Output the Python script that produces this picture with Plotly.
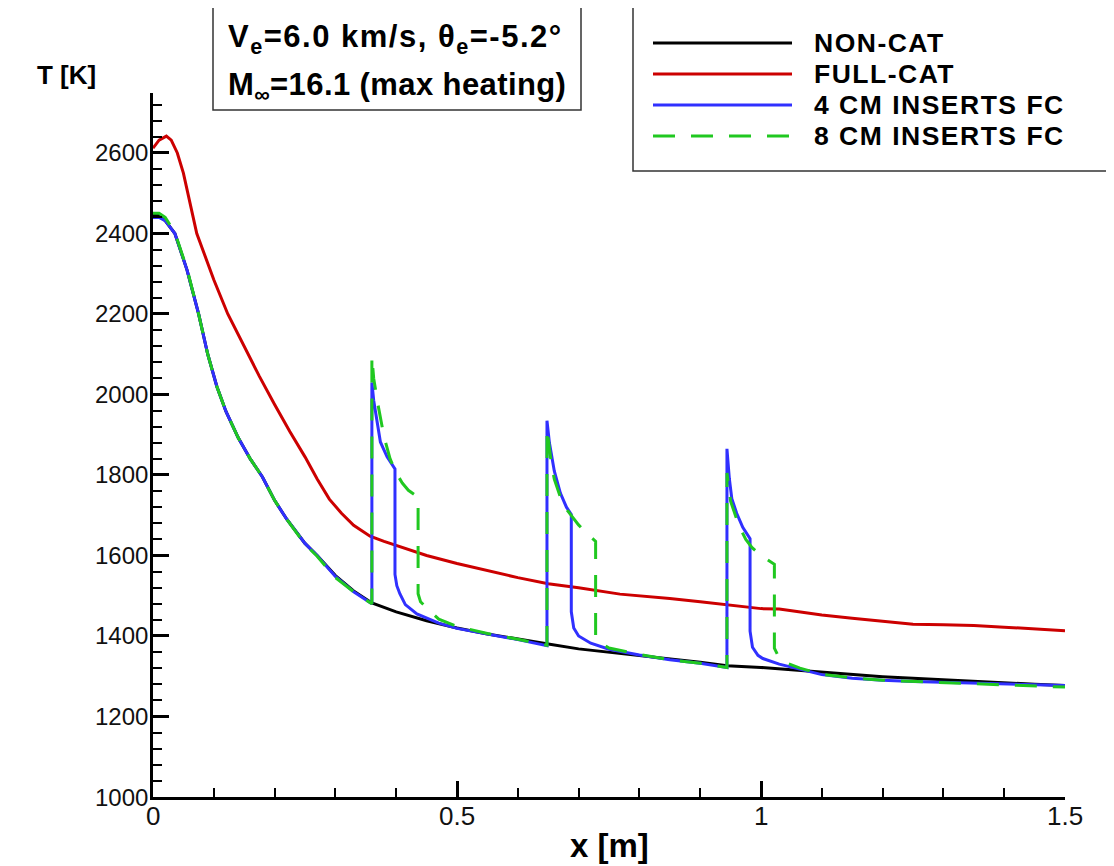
import plotly.graph_objects as go

# ---------------- data ----------------
x_noncat = [0, 0.01, 0.02, 0.036, 0.056, 0.075, 0.09, 0.105, 0.12, 0.14, 0.16, 0.18, 0.20, 0.22, 0.25, 0.27,
            0.30, 0.33, 0.36, 0.40, 0.45, 0.50, 0.55, 0.60, 0.65, 0.70, 0.75, 0.80, 0.85, 0.90, 0.944,
            1.00, 1.05, 1.10, 1.15, 1.20, 1.25, 1.30, 1.35, 1.40, 1.45, 1.50]
T_noncat = [2445, 2445, 2432, 2400, 2309, 2200, 2100, 2020, 1958, 1893, 1840, 1795, 1737, 1690, 1630, 1600,
            1550, 1512, 1482, 1460, 1438, 1420, 1405, 1392, 1380, 1368, 1360, 1352, 1343, 1335, 1326,
            1322, 1316, 1310, 1304, 1299, 1295, 1291, 1287, 1284, 1280, 1277]

x_fullcat = [0, 0.01, 0.022, 0.03, 0.04, 0.05, 0.072, 0.10, 0.123, 0.15, 0.175, 0.20, 0.225, 0.25, 0.27,
             0.29, 0.31, 0.33, 0.357, 0.38, 0.40, 0.45, 0.50, 0.555, 0.60, 0.65, 0.70, 0.768, 0.80, 0.85,
             0.90, 0.95, 1.00, 1.03, 1.064, 1.10, 1.15, 1.20, 1.25, 1.30, 1.35, 1.40, 1.45, 1.50]
T_fullcat = [2612, 2632, 2642, 2632, 2600, 2550, 2400, 2285, 2200, 2118, 2045, 1975, 1908, 1845, 1790,
             1740, 1705, 1675, 1648, 1635, 1625, 1600, 1580, 1561, 1545, 1530, 1520, 1504, 1500, 1493,
             1485, 1476, 1468, 1467, 1459, 1452, 1444, 1436, 1429, 1428, 1426, 1422, 1418, 1413]

x_ins4 = [0, 0.01, 0.02, 0.036, 0.056, 0.075, 0.09, 0.105, 0.12, 0.14, 0.16, 0.18, 0.20, 0.22, 0.25, 0.27,
          0.30, 0.33, 0.36,
          0.36, 0.363, 0.374, 0.385, 0.398,
          0.398, 0.401, 0.406, 0.415, 0.434, 0.47, 0.50, 0.554, 0.60, 0.648,
          0.648, 0.652, 0.66, 0.67, 0.68, 0.688,
          0.688, 0.692, 0.70, 0.72, 0.75, 0.80, 0.85, 0.90, 0.944,
          0.944, 0.948, 0.952, 0.96, 0.97, 0.982,
          0.982, 0.986, 0.995, 1.003, 1.03, 1.064, 1.10, 1.15, 1.20, 1.25, 1.30, 1.35, 1.40, 1.45, 1.50]
T_ins4 = [2440, 2440, 2432, 2400, 2309, 2200, 2100, 2020, 1958, 1893, 1840, 1795, 1737, 1690, 1630, 1600,
          1548, 1510, 1480,
          2030, 1985, 1882, 1845, 1815,
          1553, 1525, 1505, 1478, 1455, 1432, 1419, 1404, 1391, 1376,
          1935, 1880, 1810, 1755, 1720, 1702,
          1460, 1420, 1400, 1382, 1367, 1353, 1341, 1332, 1322,
          1865, 1790, 1741, 1705, 1670, 1642,
          1412, 1372, 1352, 1344, 1330, 1318, 1304, 1295, 1290, 1287, 1285, 1283, 1281, 1279, 1277]

x_ins8 = [0, 0.01, 0.02, 0.036, 0.056, 0.075, 0.09, 0.105, 0.12, 0.14, 0.16, 0.18, 0.20, 0.22, 0.25, 0.27,
          0.30, 0.33, 0.36,
          0.36, 0.363, 0.37, 0.38, 0.39, 0.40, 0.41, 0.42, 0.436,
          0.436, 0.44, 0.45, 0.456, 0.47, 0.50, 0.55, 0.60, 0.648,
          0.648, 0.655, 0.66, 0.67, 0.68, 0.69, 0.70, 0.71, 0.72, 0.728,
          0.728, 0.735, 0.75, 0.80, 0.85, 0.90, 0.944,
          0.944, 0.95, 0.96, 0.97, 0.975, 0.985, 1.00, 1.01, 1.022,
          1.022, 1.03, 1.045, 1.064, 1.10, 1.15, 1.20, 1.30, 1.40, 1.50]
T_ins8 = [2450, 2450, 2440, 2402, 2312, 2200, 2100, 2020, 1958, 1893, 1840, 1795, 1737, 1690, 1628, 1598,
          1545, 1510, 1480,
          2095, 2040, 1975, 1895, 1840, 1805, 1780, 1762, 1745,
          1505, 1485, 1470, 1462, 1442, 1424, 1406, 1392, 1377,
          1915, 1830, 1790, 1745, 1715, 1695, 1676, 1660, 1646, 1635,
          1395, 1384, 1370, 1354, 1341, 1332, 1322,
          1805, 1735, 1690, 1655, 1640, 1620, 1600, 1590, 1578,
          1370, 1345, 1331, 1320, 1305, 1296, 1290, 1284, 1278, 1273]

series_names = ["NON-CAT", "FULL-CAT", "4 CM INSERTS FC", "8 CM INSERTS FC"]
series_colors = ["#000000", "#cc0000", "#3030ff", "#20c820"]
series_dash = ["solid", "solid", "solid", "22px,16px"]

x_ticks = [0, 0.5, 1, 1.5]
x_ticklabels = ["0", "0.5", "1", "1.5"]
y_ticks = [1000, 1200, 1400, 1600, 1800, 2000, 2200, 2400, 2600]
y_ticklabels = ["1000", "1200", "1400", "1600", "1800", "2000", "2200", "2400", "2600"]

# ---------------- layout helpers ----------------
# the page body has an 8px margin, so the figure is made 8px smaller and
# every position below is given in the reference screenshot's pixels
OFF = 8
W, H = 1114 - OFF, 866 - OFF
L, R, T, B = 153, 1065, 93, 797          # plot-area edges in screenshot pixels


def fx(px):
    return (px - L) / (R - L)


def fy(py):
    return (B - py) / (B - T)


FONT = "Liberation Sans, Arial, Helvetica, sans-serif"

fig = go.Figure()
xs = [x_noncat, x_fullcat, x_ins4, x_ins8]
ys = [T_noncat, T_fullcat, T_ins4, T_ins8]
for xv, yv, nm, col, ds in zip(xs, ys, series_names, series_colors, series_dash):
    fig.add_trace(go.Scatter(x=xv, y=yv, mode="lines", name=nm,
                             line=dict(color=col, width=3, dash=ds),
                             showlegend=False))

# manual legend (Tecplot style, long line samples)
shapes = [dict(type="rect", xref="paper", yref="paper",
               x0=fx(633), x1=fx(1108), y0=fy(171), y1=fy(-3),
               line=dict(color="#333333", width=1.5), fillcolor="rgba(0,0,0,0)")]
annotations = []
legend_y = [43, 74, 105, 136]
for i, (nm, col, ds) in enumerate(zip(series_names, series_colors, series_dash)):
    shapes.append(dict(type="line", xref="paper", yref="paper",
                       x0=fx(653), x1=fx(792), y0=fy(legend_y[i]), y1=fy(legend_y[i]),
                       line=dict(color=col, width=3, dash=ds)))
    annotations.append(dict(xref="paper", yref="paper", x=fx(812), y=fy(legend_y[i]),
                            text='<span style="letter-spacing:1.5px"><b>%s</b></span>' % nm,
                            showarrow=False, xanchor="left",
                            yanchor="middle", font=dict(family=FONT, size=26.5, color="black")))

# condition box
shapes.append(dict(type="rect", xref="paper", yref="paper",
                   x0=fx(213), x1=fx(581), y0=fy(110), y1=fy(6),
                   line=dict(color="#333333", width=1.5), fillcolor="rgba(0,0,0,0)"))
annotations.append(dict(xref="paper", yref="paper", x=fx(226), y=fy(39),
                        text='<span style="letter-spacing:1.5px"><b>V<sub>e</sub>=6.0 km/s, '
                             'θ<sub>e</sub>=-5.2°</b></span>',
                        showarrow=False, xanchor="left", yanchor="middle",
                        font=dict(family=FONT, size=31, color="black")))
annotations.append(dict(xref="paper", yref="paper", x=fx(226), y=fy(87),
                        text='<span style="letter-spacing:0.4px"><b>M<sub>∞</sub>=16.1 '
                             '(max heating)</b></span>',
                        showarrow=False, xanchor="left", yanchor="middle",
                        font=dict(family=FONT, size=31, color="black")))

# axis titles
annotations.append(dict(xref="paper", yref="paper", x=fx(66), y=fy(75),
                        text="<b>T [K]</b>", showarrow=False, xanchor="center", yanchor="middle",
                        font=dict(family=FONT, size=26, color="black")))
annotations.append(dict(xref="paper", yref="paper", x=fx(609), y=fy(845),
                        text="<b>x [m]</b>", showarrow=False, xanchor="center", yanchor="middle",
                        font=dict(family=FONT, size=33, color="black")))

# tick labels (placed close to the axes, Tecplot style)
for v, t in zip(x_ticks, x_ticklabels):
    annotations.append(dict(xref="x", yref="paper", x=v, y=fy(816), text=t, showarrow=False,
                            xanchor="center", yanchor="middle",
                            font=dict(family=FONT, size=26, color="#111111")))
for v, t in zip(y_ticks, y_ticklabels):
    annotations.append(dict(xref="paper", yref="y", x=fx(150), y=v, text=t, showarrow=False,
                            xanchor="right", yanchor="middle",
                            font=dict(family=FONT, size=24, color="#111111")))

fig.update_layout(
    width=W, height=H,
    margin=dict(l=L - OFF, r=(W + OFF) - R, t=T - OFF, b=(H + OFF) - B, pad=0),
    paper_bgcolor="white", plot_bgcolor="white",
    shapes=shapes, annotations=annotations,
    showlegend=False,
    font=dict(family=FONT, size=24, color="black"),
)
fig.update_xaxes(range=[0, 1.5], tickmode="array", tickvals=x_ticks, showticklabels=False,
                 ticks="inside", ticklen=16, tickwidth=3, tickcolor="black",
                 showline=True, linecolor="black", linewidth=3, showgrid=False, zeroline=False,
                 minor=dict(dtick=0.1, tick0=0, ticks="inside", ticklen=9, tickwidth=1.5,
                            tickcolor="black", showgrid=False))
fig.update_yaxes(range=[1000, 2749], tickmode="array", tickvals=y_ticks, showticklabels=False,
                 ticks="inside", ticklen=16, tickwidth=3, tickcolor="black",
                 showline=True, linecolor="black", linewidth=3, showgrid=False, zeroline=False,
                 minor=dict(dtick=40, tick0=1000, ticks="inside", ticklen=9, tickwidth=1.5,
                            tickcolor="black", showgrid=False))

fig.write_html("out.html")
